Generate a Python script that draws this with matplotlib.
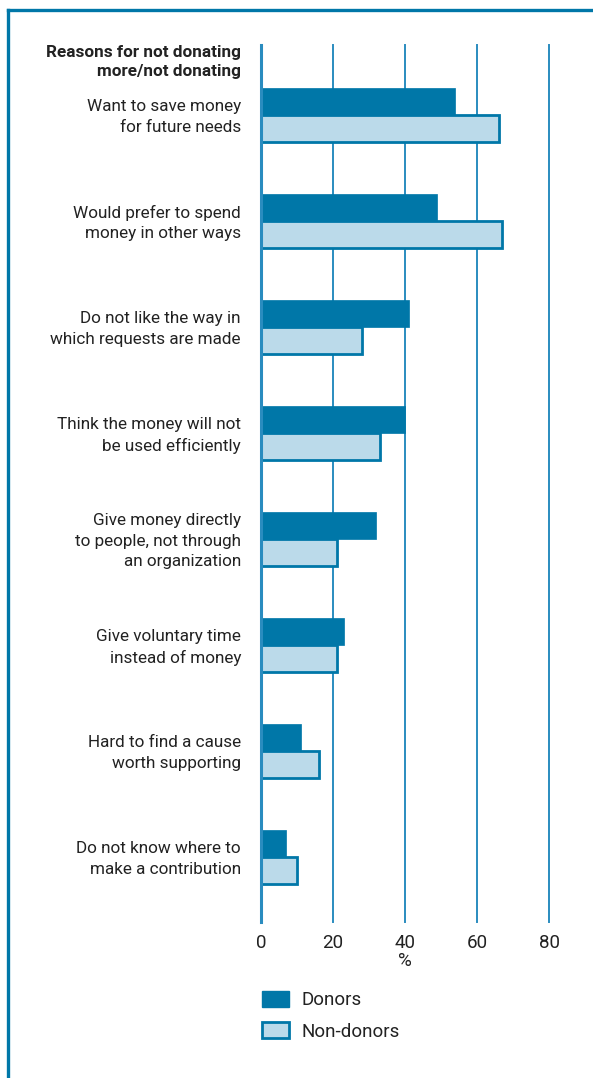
import matplotlib
matplotlib.use("Agg")
import matplotlib.pyplot as plt
from matplotlib.patches import Patch
from matplotlib.lines import Line2D
import numpy as np

categories = [
    "Want to save money\nfor future needs",
    "Would prefer to spend\nmoney in other ways",
    "Do not like the way in\nwhich requests are made",
    "Think the money will not\nbe used efficiently",
    "Give money directly\nto people, not through\nan organization",
    "Give voluntary time\ninstead of money",
    "Hard to find a cause\nworth supporting",
    "Do not know where to\nmake a contribution",
]
donors = [54, 49, 41, 40, 32, 23, 11, 7]
non_donors = [66, 67, 28, 33, 21, 21, 16, 10]
xticks = [0, 20, 40, 60, 80]
title_text = "Reasons for not donating\nmore/not donating"

DARK = "#0077a8"
LIGHT = "#bbdaea"
GRID = "#2a8cbf"
TXT = "#222222"
FONT = ["Roboto", "DejaVu Sans"]
FS = 12.3

W, H = 593, 1078
fig = plt.figure(figsize=(W / 100, H / 100), dpi=100)

ax_left, ax_right = 261 / W, 549 / W
ax_top, ax_bot = 1 - 45 / H, 1 - 922 / H
ax = fig.add_axes([ax_left, ax_bot, ax_right - ax_left, ax_top - ax_bot])

y = np.arange(len(categories))
bh = 27 / 106
ax.barh(y - bh / 2, donors, height=bh, color=DARK, edgecolor=DARK, linewidth=0.5, zorder=3)
ax.barh(y + bh / 2, non_donors, height=bh, color=LIGHT, edgecolor=DARK, linewidth=2, zorder=3)

ax.set_xlim(0, 80)
ax.set_ylim(7 + 65 / 106, -70 / 106)
for t in xticks:
    ax.axvline(t, color=GRID, linewidth=1.4 if t else 2.2, zorder=1 if t else 4, clip_on=False)

for s in ax.spines.values():
    s.set_visible(False)
ax.set_xticks(xticks)
ax.set_xticklabels([str(t) for t in xticks], family=FONT, fontsize=13.5, color=TXT)
ax.tick_params(axis="x", length=0, pad=9)
ax.set_yticks([])
ax.set_xlabel("%", family=FONT, fontsize=13.5, color=TXT, labelpad=0)

for i, c in enumerate(categories):
    ax.text(-20 / 3.6, i + 0.02, c, ha="right", va="center", family=FONT, fontsize=FS,
            color=TXT, linespacing=1.45)

fig.text(241 / W, 1 - 45 / H, title_text, ha="right", va="top", family=FONT,
         fontsize=FS, fontweight="bold", color=TXT, linespacing=1.33)

# frame
fig.add_artist(Line2D([8 / W, 8 / W], [0, 1 - 10 / H], color=DARK, linewidth=2.4,
                      transform=fig.transFigure))
fig.add_artist(Line2D([8 / W, 1], [1 - 10 / H, 1 - 10 / H], color=DARK, linewidth=2.4,
                      transform=fig.transFigure))

handles = [Patch(facecolor=DARK, edgecolor=DARK, linewidth=1),
           Patch(facecolor=LIGHT, edgecolor=DARK, linewidth=2)]
leg = fig.legend(handles, ["Donors", "Non-donors"], loc="upper left",
                 bbox_to_anchor=(245 / W, 1 - 974 / H), frameon=False,
                 prop={"family": FONT, "size": 13.5}, handlelength=1.45, handleheight=0.95,
                 labelspacing=0.68, handletextpad=0.65)
for t in leg.get_texts():
    t.set_color(TXT)

fig.savefig("out.png", dpi=100)
